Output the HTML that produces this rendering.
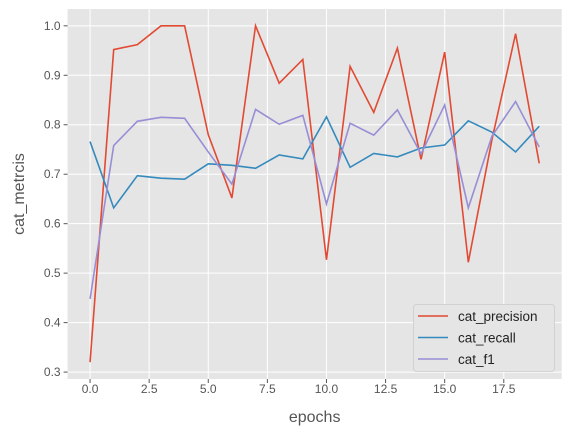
<!DOCTYPE html>
<html><head><meta charset="utf-8"><style>
body{margin:0;background:#fff;font-family:"Liberation Sans","DejaVu Sans",sans-serif}
</style></head><body>
<svg id="chart" width="571" height="436" xmlns="http://www.w3.org/2000/svg"></svg>
<script>
const epochs=[0,1,2,3,4,5,6,7,8,9,10,11,12,13,14,15,16,17,18,19];
const precision=[0.32,0.952,0.962,1.0,1.0,0.78,0.652,1.0,0.884,0.932,0.527,0.918,0.825,0.955,0.73,0.947,0.522,0.77,0.984,0.722];
const recall=[0.766,0.632,0.697,0.692,0.690,0.721,0.718,0.712,0.739,0.731,0.816,0.714,0.742,0.735,0.753,0.759,0.808,0.785,0.745,0.797];
const f1=[0.448,0.758,0.807,0.815,0.813,0.745,0.680,0.831,0.801,0.819,0.640,0.803,0.779,0.830,0.741,0.840,0.632,0.777,0.847,0.755];
const xTicks=[0,2.5,5,7.5,10,12.5,15,17.5];
const yTicks=[0.3,0.4,0.5,0.6,0.7,0.8,0.9,1.0];
const L=67.6,R=561.7,T=9,B=379;
const xMin=-0.95,xMax=19.95,yMin=0.286,yMax=1.034;
const sx=v=>L+(v-xMin)/(xMax-xMin)*(R-L);
const sy=v=>B-(v-yMin)/(yMax-yMin)*(B-T);
const svg=document.getElementById('chart');
const NS='http://www.w3.org/2000/svg';
function mk(tag,attrs,parent){const e=document.createElementNS(NS,tag);for(const k in attrs)e.setAttribute(k,attrs[k]);(parent||svg).appendChild(e);return e;}
const bg=mk('rect',{x:L,y:T,width:R-L,height:B-T,fill:'#E5E5E5'});


xTicks.forEach(t=>{
 const g=mk('line',{x1:sx(t),x2:sx(t),y1:T,y2:B,stroke:'#fff','stroke-width':1});
 
 
 mk('line',{x1:sx(t),x2:sx(t),y1:B,y2:B+4,stroke:'#555','stroke-width':1});
 const tx=mk('text',{x:sx(t),y:B+14,'text-anchor':'middle','font-size':12,fill:'#555'});
 tx.textContent=t.toFixed(1);
 
 
});
yTicks.forEach(t=>{
 const g=mk('line',{x1:L,x2:R,y1:sy(t),y2:sy(t),stroke:'#fff','stroke-width':1});
 
 
 mk('line',{x1:L-4,x2:L,y1:sy(t),y2:sy(t),stroke:'#555','stroke-width':1});
 const tx=mk('text',{x:L-7,y:sy(t)+4,'text-anchor':'end','font-size':12,fill:'#555'});
 tx.textContent=t.toFixed(1);
 
 
});
const series=[['cat_precision',precision,'#E24A33'],['cat_recall',recall,'#348ABD'],['cat_f1',f1,'#988ED5']];
series.forEach(([n,d,c])=>{
 const p=mk('polyline',{points:d.map((v,i)=>sx(epochs[i])+','+sy(v)).join(' '),fill:'none',stroke:c,'stroke-width':1.6});
 
 
});
const xl=mk('text',{x:(L+R)/2,y:422,'text-anchor':'middle','font-size':16,fill:'#555'});
xl.textContent='epochs';


const yl=mk('text',{x:24,y:(T+B)/2,'text-anchor':'middle','font-size':16,fill:'#555',transform:'rotate(-90 24 '+(T+B)/2+')'});
yl.textContent='cat_metrcis';


const lg=mk('g',{});


mk('rect',{x:413.5,y:304.5,width:141,height:67,rx:3,fill:'#E5E5E5',stroke:'#ccc','stroke-opacity':0.8},lg);
series.forEach(([n,d,c],i)=>{
 const y=316+i*21.5;
 mk('line',{x1:418,x2:448,y1:y,y2:y,stroke:c,'stroke-width':1.6},lg);
 const t=mk('text',{x:458,y:y+5,'font-size':13.5,fill:'#222'},lg);
 t.textContent=n;
 
 
});
</script>
</body></html>
